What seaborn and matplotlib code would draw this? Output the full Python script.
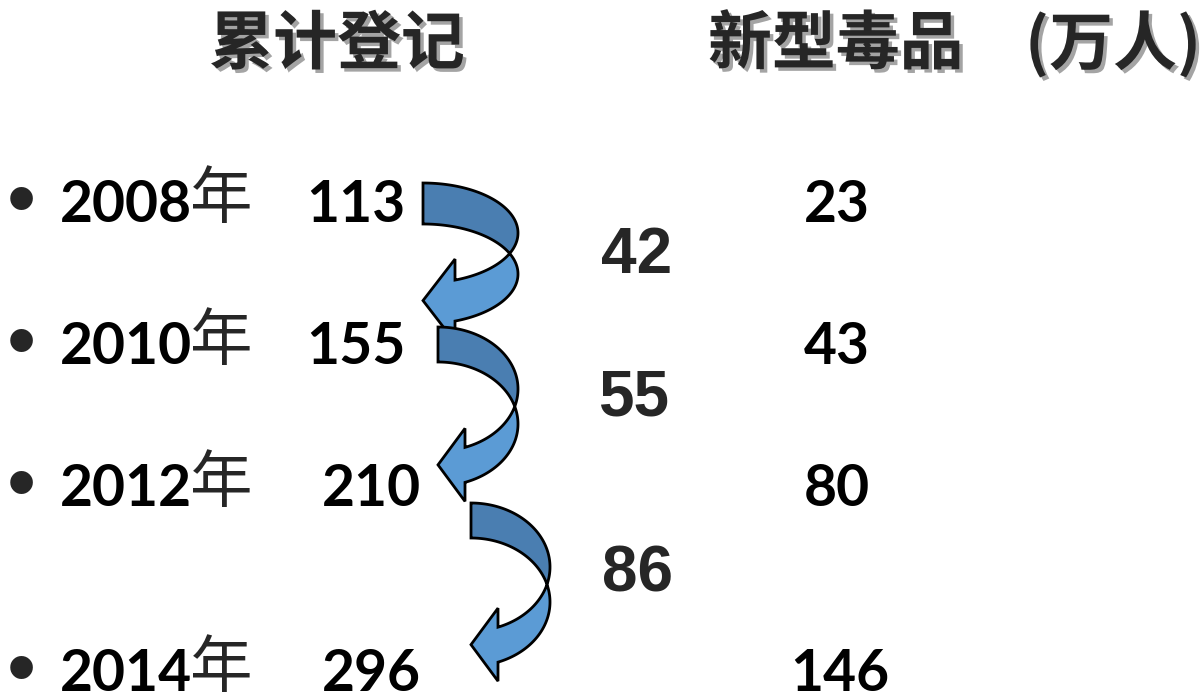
import numpy as np
import matplotlib
matplotlib.use("Agg")
import matplotlib.pyplot as plt
import matplotlib.patheffects as pe
from matplotlib.patches import Polygon
import seaborn as sns

# ---- data ----
years = ["2008", "2010", "2012", "2014"]
registered = [113, 155, 210, 296]          # 累计登记 (万人)
increments = [42, 55, 86]                   # growth between rows
new_drugs = [23, 43, 80, 146]              # 新型毒品 (万人)
title_left = "累计登记"
title_right = "新型毒品"
title_unit = "(万人)"
year_suffix = "年"

# ---- layout (pixel coordinates, y downward) ----
W, H = 1204, 698
row_base = [222, 364, 506, 691]
reg_x = [356, 356, 371, 371]
new_x = [837, 837, 837, 840]
inc_base = [273, 415, 592]
inc_x = [637, 634, 637]

# arrow geometry: x0, top y, band width, semi-axis a, semi-axis b, base dx, barb ext
arrows = [
    (423, 183, 41, 95, 50, 32, 21),
    (438, 327, 35, 80, 62, 27, 19),
    (471, 503, 35, 79, 64, 27, 19),
]
DARK = "#4a7eb1"
LIGHT = "#5b9bd5"

sns.set_theme(style="white")
plt.rcParams["font.family"] = ["Noto Sans CJK SC", "DejaVu Sans"]

fig = plt.figure(figsize=(W / 100, H / 100), dpi=100)
ax = fig.add_axes([0, 0, 1, 1])
ax.set_xlim(0, W)
ax.set_ylim(H, 0)
ax.axis("off")

shadow = [pe.withSimplePatchShadow(offset=(2.5, -2.5), shadow_rgbFace="#9a9a9a", alpha=0.9)]
ax.text(337, 45, title_left, fontsize=46, family="Noto Sans CJK SC", weight="bold",
        ha="center", va="center", path_effects=shadow)
ax.text(708, 45, title_right, fontsize=46, family="Noto Sans CJK SC", weight="bold",
        ha="left", va="center", path_effects=shadow)
ax.text(1201, 45, title_unit, fontsize=46, family="Noto Sans CJK SC", weight="bold",
        ha="right", va="center", path_effects=shadow)


def draw_arrow(x0, top, w, a, b, dxb, ext):
    yc = top + b
    th_i = -np.arcsin(w / (2 * b))
    # dark band: outer ellipse from top down to intersection, back along inner ellipse
    t1 = np.linspace(np.pi / 2, th_i, 80)
    outer = np.column_stack([x0 + a * np.cos(t1), yc - b * np.sin(t1)])
    t2 = np.linspace(-th_i, np.pi / 2, 80)
    inner = np.column_stack([x0 + a * np.cos(t2), yc + w - b * np.sin(t2)])
    dark = np.vstack([outer, inner])
    # light band: inner ellipse from intersection down to arrow base, head, outer back up
    phb = -np.arccos(dxb / a)
    t3 = np.linspace(-th_i, phb, 80)
    low = np.column_stack([x0 + a * np.cos(t3), yc + w - b * np.sin(t3)])
    t4 = np.linspace(phb, th_i, 80)
    up = np.column_stack([x0 + a * np.cos(t4), yc - b * np.sin(t4)])
    xb = x0 + dxb
    y_low = low[-1, 1]
    y_up = up[0, 1]
    ymid = (y_low + y_up) / 2
    head = np.array([[xb, y_low + ext], [x0, ymid], [xb, y_up - ext]])
    light = np.vstack([low, head, up])
    ax.add_patch(Polygon(light, closed=True, facecolor=LIGHT, edgecolor="black", lw=2, joinstyle="miter"))
    ax.add_patch(Polygon(dark, closed=True, facecolor=DARK, edgecolor="black", lw=2, joinstyle="miter"))


for spec in arrows:
    draw_arrow(*spec)

num_font = dict(family="Lato", weight="bold", fontsize=41, color="black")
for i, yr in enumerate(years):
    yb = row_base[i]
    ax.text(21, yb + 4, "•", fontsize=60, family="Liberation Sans", ha="center", va="baseline")
    ax.text(60, yb, yr, ha="left", va="baseline", **num_font)
    ax.text(190, yb - 4, year_suffix, fontsize=45, family="Noto Sans CJK SC",
            ha="left", va="baseline")
    ax.text(reg_x[i], yb, str(registered[i]), ha="center", va="baseline", **num_font)
    ax.text(new_x[i], yb, str(new_drugs[i]), ha="center", va="baseline", **num_font)

for i, v in enumerate(increments):
    ax.text(inc_x[i], inc_base[i], str(v), family="Liberation Sans", weight="bold",
            fontsize=46, ha="center", va="baseline")

fig.savefig("out.png", dpi=100, facecolor="white")
